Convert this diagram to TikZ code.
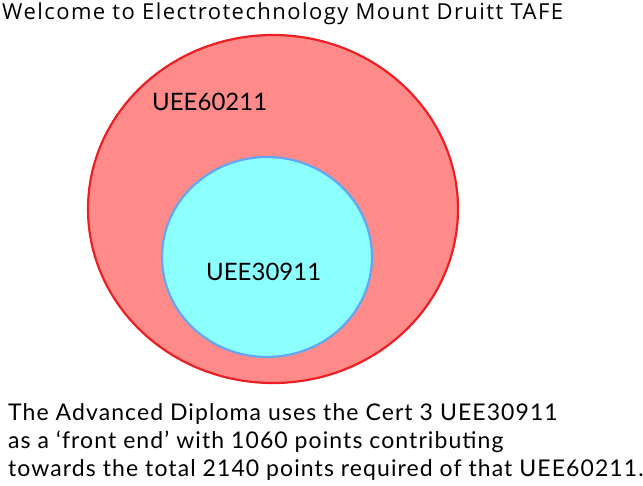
\documentclass[tikz,border=0pt]{standalone}
\usepackage{fontspec}
\setmainfont{Lato}
\newfontfamily\titlefont{Open Sans}
\usepackage{tikz}
\usetikzlibrary{positioning}
\usetikzlibrary{calc}

\definecolor{outerfill}{RGB}{255,138,138}
\definecolor{outerline}{RGB}{236,32,36}
\definecolor{innerfill}{RGB}{140,255,255}
\definecolor{innerline}{RGB}{100,166,240}

\begin{document}
\begin{tikzpicture}[x=1pt, y=-1pt,
	txt/.style = {inner sep=0pt, anchor=base west, font=\fontsize{23}{28}\selectfont\addfontfeature{LetterSpace=4.7}},
	lbl/.style = {inner sep=0pt, anchor=base west, font=\fontsize{24}{28}\selectfont}]
\useasboundingbox (0,0) rectangle (643,485);

% the two qualifications
\draw[outerline, fill=outerfill, line width=2.2pt] (273,209) ellipse (185 and 174);
\draw[innerline, fill=innerfill, line width=2.2pt] (267,257) ellipse (105 and 100);

\node[inner sep=0pt, anchor=base west, font=\titlefont\fontsize{22}{24}\selectfont\addfontfeature{LetterSpace=6.6}] (title) at (2,19) {Welcome to Electrotechnology Mount Druitt TAFE};
\node[lbl] (adv) at (152,110) {UEE60211};
\node[lbl] (cert) at (206,280) {UEE30911};

\node[txt] (line1) at (8,420) {The Advanced Diploma uses the Cert 3 UEE30911};
\node[txt] (line2) at (8,448) {as a ‘front end’ with 1060 points contributing};
\node[txt] (line3) at (8,476) {towards the total 2140 points required of that UEE60211.};
\end{tikzpicture}
\end{document}
